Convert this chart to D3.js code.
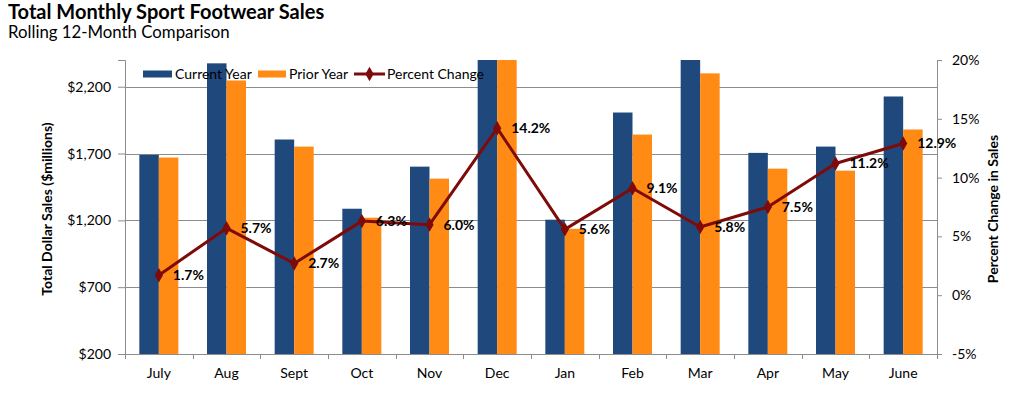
<!DOCTYPE html>
<html>
<head>
<meta charset="utf-8">
<script src="https://cdn.jsdelivr.net/npm/d3@7"></script>
<style>
  body { margin: 0; background: #fff; }
  svg { display: block; font-family: Lato, "Open Sans", sans-serif; }
</style>
</head>
<body>
<svg id="chart" width="1012" height="397"></svg>
<script>
const months = ["July","Aug","Sept","Oct","Nov","Dec","Jan","Feb","Mar","Apr","May","June"];
const currentYear = [1690, 2375, 1805, 1287, 1602, 2750, 1205, 2007, 2430, 1705, 1752, 2127];
const priorYear   = [1670, 2247, 1752, 1220, 1512, 2410, 1137, 1842, 2300, 1587, 1572, 1880];
const pctChange   = [1.7, 5.7, 2.7, 6.3, 6.0, 14.2, 5.6, 9.1, 5.8, 7.5, 11.2, 12.9];
const leftTicks = [200, 700, 1200, 1700, 2200];
const rightTicks = [-5, 0, 5, 10, 15, 20];

const svg = d3.select("#chart");
const m = {left: 125, right: 937, top: 60, bottom: 354};
const blue = "#1F497D", orange = "#FF8A14", red = "#7F0A0A", grid = "#8c8c8c";

const x = d3.scaleBand().domain(months).range([m.left, m.right]).padding(0);
const yL = d3.scaleLinear().domain([200, 2400]).range([m.bottom, m.top]);
const yR = d3.scaleLinear().domain([-5, 20]).range([m.bottom, m.top]);
const barW = 19.5;

// title
svg.append("text").attr("x", 8).attr("y", 19).attr("font-size", 20).attr("font-weight", "bold").attr("fill", "#000")
  .text("Total Monthly Sport Footwear Sales");
svg.append("text").attr("x", 8).attr("y", 38).attr("font-size", 16.8).attr("fill", "#000")
  .text("Rolling 12-Month Comparison");

// gridlines
svg.append("g").selectAll("line").data(leftTicks).join("line")
  .attr("x1", m.left).attr("x2", m.right)
  .attr("y1", d => Math.round(yL(d)) + 0.5).attr("y2", d => Math.round(yL(d)) + 0.5)
  .attr("stroke", grid).attr("stroke-width", 1);

// clip for bars
svg.append("clipPath").attr("id", "plotclip").append("rect")
  .attr("x", m.left).attr("y", m.top).attr("width", m.right - m.left).attr("height", m.bottom - m.top);

const bars = svg.append("g").attr("clip-path", "url(#plotclip)");
bars.selectAll("rect.cur").data(months).join("rect").attr("class", "cur")
  .attr("x", d => x(d) + x.bandwidth() / 2 - barW)
  .attr("width", barW)
  .attr("y", (d, i) => yL(currentYear[i]))
  .attr("height", (d, i) => yL(200) - yL(currentYear[i]))
  .attr("fill", blue);
bars.selectAll("rect.pri").data(months).join("rect").attr("class", "pri")
  .attr("x", d => x(d) + x.bandwidth() / 2)
  .attr("width", barW)
  .attr("y", (d, i) => yL(priorYear[i]))
  .attr("height", (d, i) => yL(200) - yL(priorYear[i]))
  .attr("fill", orange);

// axes
const axL = svg.append("g").attr("transform", `translate(${m.left},0)`)
  .call(d3.axisLeft(yL).tickValues(leftTicks).tickSize(7).tickPadding(7).tickFormat(d => "$" + d3.format(",")(d)));
const axR = svg.append("g").attr("transform", `translate(${m.right},0)`)
  .call(d3.axisRight(yR).tickValues(rightTicks).tickSize(5).tickPadding(10).tickFormat(d => d + "%"));
const axB = svg.append("g").attr("transform", `translate(0,${m.bottom})`)
  .call(d3.axisBottom(x).tickSize(0).tickPadding(14));
// category boundary ticks
const bounds = months.map(d => x(d)).concat([m.right]);
svg.append("g").selectAll("line").data(bounds).join("line")
  .attr("x1", d => Math.round(d) + 0.5).attr("x2", d => Math.round(d) + 0.5)
  .attr("y1", m.bottom).attr("y2", m.bottom + 5)
  .attr("stroke", grid);

[axL, axR, axB].forEach(a => {
  a.selectAll("path.domain").attr("stroke", grid);
  a.selectAll(".tick line").attr("stroke", grid);
  a.selectAll("text").attr("font-family", "Lato, 'Open Sans', sans-serif").attr("font-size", 14).attr("fill", "#000");
});
axB.select("path.domain").attr("d", `M${m.left},0.5H${m.right}`);

// axis titles
svg.append("text").attr("transform", `translate(52,${(m.top + m.bottom) / 2 + 2}) rotate(-90)`)
  .attr("text-anchor", "middle").attr("font-size", 14).attr("font-weight", "bold").text("Total Dollar Sales ($millions)");
svg.append("text").attr("transform", `translate(998,${(m.top + m.bottom) / 2 + 2}) rotate(-90)`)
  .attr("text-anchor", "middle").attr("font-size", 14).attr("font-weight", "bold").text("Percent Change in Sales");

// line
const cx = d => x(d) + x.bandwidth() / 2;
const line = d3.line().x((d, i) => cx(months[i])).y(d => yR(d));
svg.append("path").datum(pctChange).attr("d", line)
  .attr("fill", "none").attr("stroke", red).attr("stroke-width", 3).attr("stroke-linejoin", "round");
const diamond = d3.symbol().type(d3.symbolDiamond).size(60);
svg.append("g").selectAll("path").data(pctChange).join("path")
  .attr("d", diamond)
  .attr("transform", (d, i) => `translate(${cx(months[i])},${yR(d)})`)
  .attr("fill", red);
svg.append("g").selectAll("text").data(pctChange).join("text")
  .attr("x", (d, i) => cx(months[i]) + 14)
  .attr("y", d => yR(d))
  .attr("dy", "0.35em")
  .attr("font-size", 14).attr("font-weight", "bold").attr("fill", "#000")
  .text(d => d.toFixed(1) + "%");

// legend
const lg = svg.append("g");
const ly = 74;
lg.append("rect").attr("x", 143).attr("y", ly - 3.5).attr("width", 29).attr("height", 7).attr("fill", blue);
lg.append("text").attr("x", 175).attr("y", ly).attr("dy", "0.35em").attr("font-size", 14).text("Current Year");
lg.append("rect").attr("x", 258).attr("y", ly - 3.5).attr("width", 28).attr("height", 7).attr("fill", orange);
lg.append("text").attr("x", 289).attr("y", ly).attr("dy", "0.35em").attr("font-size", 14).text("Prior Year");
lg.append("line").attr("x1", 354).attr("x2", 385).attr("y1", ly).attr("y2", ly).attr("stroke", red).attr("stroke-width", 3);
lg.append("path").attr("d", diamond).attr("transform", `translate(369.5,${ly})`).attr("fill", red);
lg.append("text").attr("x", 387).attr("y", ly).attr("dy", "0.35em").attr("font-size", 14).text("Percent Change");
</script>
</body>
</html>
